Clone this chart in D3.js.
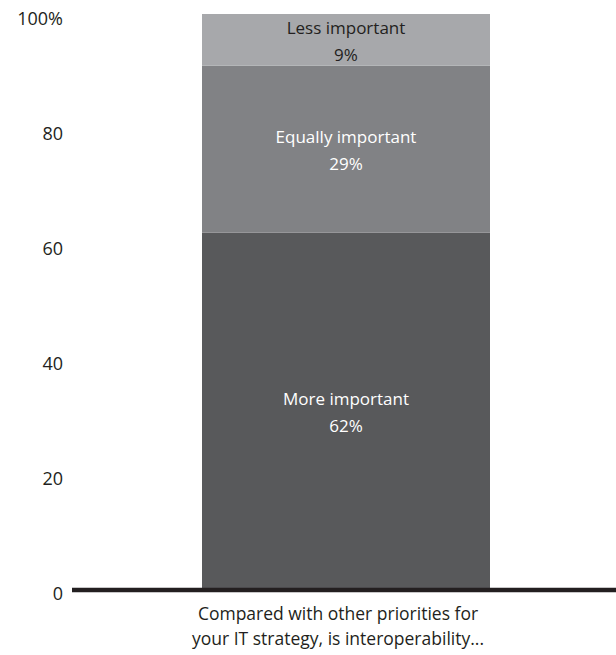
<!DOCTYPE html>
<html>
<head>
<meta charset="utf-8">
<script src="https://cdn.jsdelivr.net/npm/d3@7"></script>
<style>
  body { margin: 0; background: #fff; }
  svg { display: block; font-family: "Open Sans", Lato, sans-serif; }
</style>
</head>
<body>
<div id="chart"></div>
<script>
// data
const categories = ['Compared with other priorities for|your IT strategy, is interoperability...'];
const segments = ['More important', 'Equally important', 'Less important'];
const values = [62, 29, 9];
const segColors = ['#58595b', '#818285', '#a7a8ab'];
const labelColors = ['#ffffff', '#ffffff', '#231f20'];
const yTicks = [0, 20, 40, 60, 80, 100];
const yTickLabels = ['0', '20', '40', '60', '80', '100%'];

const width = 616, height = 655;

let svg = d3.select('#chart')
    .append('svg')
    .attr('width', width)
    .attr('height', height);

let y = d3.scaleLinear()
    .domain([0, 100])
    .range([589, 14]);

let x = d3.scaleBand()
    .domain(categories)
    .range([202, 490])
    .padding(0);

// build one row for the stack
let row = { cat: categories[0] };
segments.forEach((s, i) => { row[s] = values[i]; });
let stacked = d3.stack().keys(segments)([row]);

// y tick labels, no axis line
let yAxis = svg.append('g')
    .attr('transform', 'translate(63,0)')
    .call(d3.axisLeft(y).tickValues(yTicks).tickSize(0).tickPadding(0)
        .tickFormat((d, i) => yTickLabels[i]));
yAxis.select('.domain').remove();
yAxis.selectAll('text')
    .attr('font-family', '"Open Sans", Lato, sans-serif')
    .attr('font-size', 18)
    .attr('fill', '#231f20')
    .attr('dy', '0.56em');

// bars
let layers = svg.selectAll('g.layer')
    .data(stacked)
    .enter()
    .append('g')
    .attr('class', 'layer')
    .attr('fill', (d, i) => segColors[i]);

layers.selectAll('rect')
    .data(d => d)
    .enter()
    .append('rect')
    .attr('x', d => x(d.data.cat))
    .attr('width', x.bandwidth())
    .attr('y', d => y(d[1]))
    .attr('height', d => y(d[0]) - y(d[1]));

// labels inside the segments
stacked.forEach((layer, i) => {
    let d = layer[0];
    let cy = (y(d[0]) + y(d[1])) / 2;
    let t = svg.append('text')
        .attr('text-anchor', 'middle')
        .attr('font-size', 17)
        .attr('fill', labelColors[i]);
    t.append('tspan')
        .attr('x', x(d.data.cat) + x.bandwidth() / 2)
        .attr('y', cy - 6)
        .text(layer.key);
    t.append('tspan')
        .attr('x', x(d.data.cat) + x.bandwidth() / 2)
        .attr('y', cy + 21)
        .text(values[i] + '%');
});

// baseline
svg.append('line')
    .attr('x1', 72)
    .attr('x2', width)
    .attr('y1', y(0) + 1)
    .attr('y2', y(0) + 1)
    .attr('stroke', '#231f20')
    .attr('stroke-width', 4.5);

// category label under the bar
categories.forEach(c => {
    let lines = c.split('|');
    let t = svg.append('text')
        .attr('text-anchor', 'middle')
        .attr('font-size', 17.5)
        .attr('fill', '#231f20');
    lines.forEach((l, i) => {
        t.append('tspan')
            .attr('x', x(c) + x.bandwidth() / 2 - 8)
            .attr('y', 620 + i * 25)
            .text(l);
    });
});
</script>
</body>
</html>
